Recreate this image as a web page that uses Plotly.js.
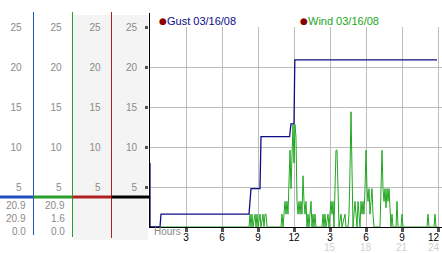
<!DOCTYPE html>
<html><head><meta charset="utf-8">
<script src="https://cdn.plot.ly/plotly-3.0.1.min.js"></script>
<style>html,body{margin:0;padding:0;background:#fff}#chart{width:442px;height:253px}</style>
</head><body><div id="chart"></div>
<script>
// ---- data (time in minutes after midnight, speeds in mph) ----
const seriesNames = ['Gust 03/16/08', 'Wind 03/16/08'];
const gustMinutes = [0, 0, 50, 55, 495, 505, 550, 555, 698, 705, 720, 724, 1435];
const gustMph     = [8, 0, 0, 1.6, 1.6, 4.8, 4.8, 11.3, 11.3, 12.9, 12.9, 20.9, 20.9];
const windMinutes = [
  0, 495, 500, 505, 510, 515, 525, 530, 535, 540, 550, 555, 565, 570, 575, 580, 585,
  655, 660, 665, 670, 675, 680, 685, 690, 695, 700, 705, 710, 715, 720, 725, 730,
  735, 740, 745, 750, 755, 760, 765, 770, 775, 780, 785, 790, 795, 800, 805, 810, 815, 820, 825, 830,
  860, 865, 870, 875, 880, 890, 895, 900, 905, 910, 915, 920, 925, 930, 935, 940, 945, 955, 960, 975, 980,
  990, 995, 1000, 1005, 1010, 1015, 1020, 1025, 1030, 1035, 1040, 1045, 1050, 1055, 1060, 1065, 1070, 1075, 1080, 1085, 1090, 1095, 1100, 1105, 1110, 1115, 1120,
  1150, 1155, 1160, 1165, 1170, 1175, 1180, 1185, 1190, 1195, 1200, 1205, 1210, 1215, 1230, 1235, 1240, 1255, 1260, 1265, 1385, 1390, 1395, 1420, 1425, 1430, 1440
];
const windMph = [
  0, 0, 1.6, 0, 1.6, 0, 1.6, 0, 1.6, 0, 1.6, 0, 1.6, 0, 1.6, 1.6, 0,
  0, 1.6, 0, 1.6, 3.2, 1.6, 3.2, 1.6, 6.4, 9.6, 4.8, 11.2, 12.8, 8.0, 12.8, 11.2,
  3.2, 1.6, 3.2, 1.6, 3.2, 1.6, 6.4, 3.2, 1.6, 3.2, 0, 1.6, 0, 1.6, 3.2, 0, 1.6, 0, 1.6, 0,
  0, 1.6, 0, 1.6, 0, 1.6, 0, 1.6, 3.2, 1.6, 3.2, 0, 4.8, 9.6, 9.6, 4.8, 0, 1.6, 0, 1.6, 0,
  0, 1.6, 7.2, 14.4, 7.2, 0, 1.6, 3.2, 1.6, 0, 3.2, 1.6, 0, 3.2, 1.6, 3.2, 1.6, 4.8, 9.6, 4.8, 3.2, 4.8, 1.6, 3.2, 4.8, 1.6, 0,
  0, 4.8, 9.6, 4.8, 3.2, 4.8, 2.4, 4.8, 3.2, 4.8, 1.6, 0, 1.6, 0, 0, 3.2, 0, 0, 1.6, 0, 0, 1.6, 0, 0, 1.6, 0, 0
];
const yTickVals = [5, 10, 15, 20, 25];
const xTickMinutes = [180, 360, 540, 720, 900, 1080, 1260, 1440];
const xTickText = ['3', '6', '9', '12', '3', '6', '9', '12'];
const pmTickMinutes = [900, 1080, 1260, 1440];
const pmTickText = ['15', '18', '21', '24'];
const gustStats = ['20.9', '20.9', '0.0'];
const windStats = ['20.9', '1.6', '0.0'];

// ---- layout helpers ----
const W = 442, H = 253, T = 27, B = 26, PH = H - T - B;
const px = v => v / W;
const py = v => (H - B - v) / PH;
const FONT = 'Liberation Sans, Arial, sans-serif';
const GUST_C = '#0c0c88', WIND_C = '#22a622';
const COL_BLUE = '#2050c0', COL_GREEN = '#2a9e2a', COL_RED = '#b02020';
const lastTick = xTickText.length - 1;
// the label at the right edge is drawn as an annotation nudged left so it stays inside
const xTickShown = xTickText.map((t, i) => i === lastTick ? '' : t);

const traces = [
  {x: windMinutes, y: windMph, type: 'scatter', mode: 'lines', name: seriesNames[1],
   line: {color: WIND_C, width: 1}, hoverinfo: 'skip'},
  {x: gustMinutes, y: gustMph, type: 'scatter', mode: 'lines', name: seriesNames[0],
   line: {color: GUST_C, width: 1.3}, hoverinfo: 'skip'},
  {x: [], y: [], yaxis: 'y2', showlegend: false},
  {x: [], y: [], yaxis: 'y3', showlegend: false},
  {x: [], y: [], yaxis: 'y4', showlegend: false}
];

const yBase = {range: [0, 25], autorange: false, tickmode: 'array', tickvals: yTickVals,
  ticktext: yTickVals.map(String), tickfont: {family: FONT, size: 10, color: '#8a8a8a'},
  showgrid: false, zeroline: false, showline: false, fixedrange: true};

const layout = {
  width: W, height: H, margin: {l: 0, r: 0, t: T, b: B, pad: 0},
  paper_bgcolor: 'rgba(0,0,0,0)', plot_bgcolor: 'rgba(0,0,0,0)', showlegend: false,
  font: {family: FONT, size: 10, color: '#000'},
  xaxis: {domain: [149 / W, 1], range: [-5, 1460], autorange: false, tickmode: 'array',
    tickvals: xTickMinutes, ticktext: xTickShown, ticks: 'outside', ticklen: 4, tickwidth: 3,
    tickcolor: '#555', tickfont: {family: FONT, size: 10, color: '#000'},
    ticklabelstandoff: -3, ticklabeloverflow: 'allow',
    showgrid: true, gridcolor: '#bdbdbd', gridwidth: 1, zeroline: false,
    showline: true, linecolor: '#000', linewidth: 1, fixedrange: true},
  yaxis: Object.assign({}, yBase, {showgrid: true, gridcolor: '#bdbdbd', gridwidth: 1,
    ticks: 'outside', ticklen: 3, tickwidth: 3, tickcolor: '#555', ticklabelstandoff: 6}),
  yaxis2: Object.assign({}, yBase, {overlaying: 'y', anchor: 'free', position: 33.5 / W, side: 'left', ticks: '', ticklabelstandoff: 12}),
  yaxis3: Object.assign({}, yBase, {overlaying: 'y', anchor: 'free', position: 72.5 / W, side: 'left', ticks: '', ticklabelstandoff: 11}),
  yaxis4: Object.assign({}, yBase, {overlaying: 'y', anchor: 'free', position: 111.5 / W, side: 'left', ticks: '', ticklabelstandoff: 11}),
  shapes: [
    {type: 'rect', xref: 'paper', yref: 'paper', x0: px(73), x1: px(148), y0: py(240), y1: py(15),
     fillcolor: '#f4f4f4', line: {width: 0}, layer: 'below'},
    {type: 'line', xref: 'paper', yref: 'paper', x0: px(33.5), x1: px(33.5), y0: py(235), y1: py(12), line: {color: COL_BLUE, width: 1}},
    {type: 'line', xref: 'paper', yref: 'paper', x0: px(72.5), x1: px(72.5), y0: py(237), y1: py(12), line: {color: COL_GREEN, width: 1}},
    {type: 'line', xref: 'paper', yref: 'paper', x0: px(111.5), x1: px(111.5), y0: py(238), y1: py(12), line: {color: COL_RED, width: 1}},
    {type: 'line', xref: 'paper', yref: 'paper', x0: px(149.5), x1: px(149.5), y0: py(227), y1: py(13), line: {color: '#000', width: 1}},
    {type: 'line', xref: 'paper', yref: 'paper', x0: px(0), x1: px(33.5), y0: py(197), y1: py(197), line: {color: COL_BLUE, width: 3}},
    {type: 'line', xref: 'paper', yref: 'paper', x0: px(33.5), x1: px(72.5), y0: py(197), y1: py(197), line: {color: COL_GREEN, width: 3}},
    {type: 'line', xref: 'paper', yref: 'paper', x0: px(72.5), x1: px(111.5), y0: py(197), y1: py(197), line: {color: COL_RED, width: 3}},
    {type: 'line', xref: 'paper', yref: 'paper', x0: px(111.5), x1: px(149.5), y0: py(197), y1: py(197), line: {color: '#000', width: 3}}
  ],
  annotations: []
};

const ann = layout.annotations;
// legend entries
[[157, GUST_C, seriesNames[0]], [298, WIND_C, seriesNames[1]]].forEach(([x, c, name]) => {
  ann.push({xref: 'paper', yref: 'paper', x: px(x), y: py(20.5), xanchor: 'left', yanchor: 'middle',
    text: '●', showarrow: false, font: {family: 'DejaVu Sans', size: 9, color: '#8b0000'}});
  ann.push({xref: 'paper', yref: 'paper', x: px(x + 8), y: py(20.5), xanchor: 'left', yanchor: 'middle',
    text: name, showarrow: false, font: {family: FONT, size: 11, color: c}});
});
// stat texts under left columns
const statY = [205, 218.5, 232];
gustStats.forEach((t, i) => ann.push({xref: 'paper', yref: 'paper', x: px(27.5), y: py(statY[i]),
  xanchor: 'right', yanchor: 'middle', text: t, showarrow: false, font: {family: FONT, size: 10, color: '#8a8a8a'}}));
windStats.forEach((t, i) => ann.push({xref: 'paper', yref: 'paper', x: px(66.5), y: py(statY[i]),
  xanchor: 'right', yanchor: 'middle', text: t, showarrow: false, font: {family: FONT, size: 10, color: '#8a8a8a'}}));
// "Hours" label
ann.push({xref: 'paper', yref: 'paper', x: px(152), y: py(231.5), xanchor: 'left', yanchor: 'middle',
  text: 'Hours', showarrow: false, font: {family: FONT, size: 10, color: '#8a8a8a'}});
// last hour label, kept inside the picture
ann.push({xref: 'x', yref: 'paper', x: xTickMinutes[lastTick], y: py(237.5), xanchor: 'center', yanchor: 'middle',
  xshift: -4, text: xTickText[lastTick], showarrow: false, font: {family: FONT, size: 10, color: '#000'}});
// 24h tick labels for the afternoon
pmTickMinutes.forEach((m, i) => ann.push({xref: 'x', yref: 'paper', x: m, y: py(247),
  xanchor: 'center', yanchor: 'middle', xshift: i === pmTickMinutes.length - 1 ? -4 : 0,
  text: pmTickText[i], showarrow: false, font: {family: FONT, size: 10, color: '#cfcfcf'}}));

Plotly.newPlot('chart', traces, layout, {staticPlot: true, displayModeBar: false});
</script></body></html>
